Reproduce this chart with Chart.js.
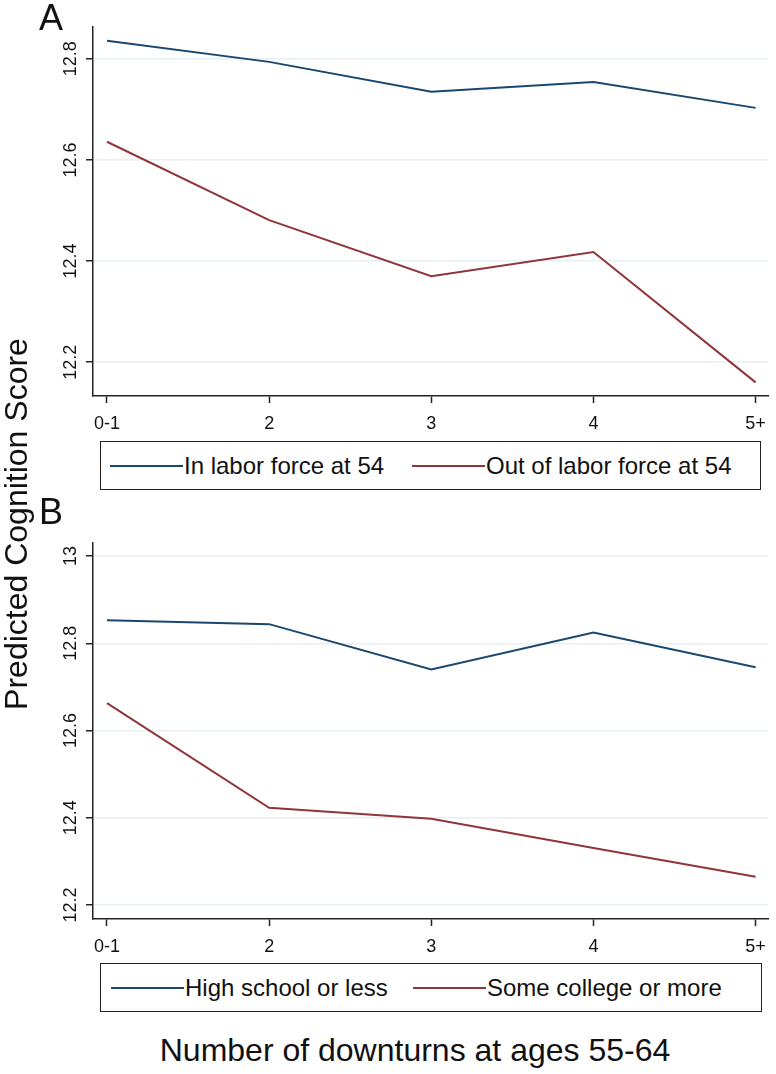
<!DOCTYPE html>
<html>
<head>
<meta charset="utf-8">
<script src="https://cdn.jsdelivr.net/npm/chart.js@4/dist/chart.umd.min.js"></script>
<style>
  body { margin: 0; background: #fff; font-family: "Liberation Sans", Arial, sans-serif; color: #111; }
  #wrap { position: relative; width: 776px; height: 1074px; overflow: hidden; }
  .box { position: absolute; }
  .panel { position: absolute; font-size: 36px; line-height: 1; }
  .legend { position: absolute; border: 1.5px solid #222; box-sizing: border-box; }
  .legend .item { position: absolute; top: 0; height: 100%; display: flex; align-items: center; font-size: 24px; }
  .legend .swatch { display: inline-block; width: 73px; height: 2px; margin-right: 1px; }
  #ytitle { position: absolute; left: 16px; top: 524px; transform: translate(-50%, -50%) rotate(-90deg); font-size: 32px; white-space: nowrap; }
  #xtitle { position: absolute; left: 415px; top: 1050px; transform: translate(-50%, -50%); font-size: 32px; white-space: nowrap; }
</style>
</head>
<body>
<div id="wrap">
  <div class="box" style="left:0;top:0;width:776px;height:430px;"><canvas id="chartA"></canvas></div>
  <div class="box" style="left:0;top:500px;width:776px;height:460px;"><canvas id="chartB"></canvas></div>
  <div class="panel" style="left:39px;top:0px;">A</div>
  <div class="panel" style="left:39px;top:494px;">B</div>
  <div class="legend" id="legendA" style="left:100px;top:441px;width:661px;height:49px;"></div>
  <div class="legend" id="legendB" style="left:100px;top:963px;width:662px;height:49px;"></div>
  <div id="ytitle">Predicted Cognition Score</div>
  <div id="xtitle">Number of downturns at ages 55-64</div>
</div>
<script>
// categories on the x axis
const downturns = ['0-1', '2', '3', '4', '5+'];

// panel A: labor force status at 54
const inLaborForce  = [12.836, 12.794, 12.735, 12.754, 12.703];
const outLaborForce = [12.636, 12.481, 12.370, 12.418, 12.160];
const yTicksA = [12.2, 12.4, 12.6, 12.8];

// panel B: education
const highSchool  = [12.853, 12.844, 12.740, 12.825, 12.745];
const someCollege = [12.663, 12.423, 12.398, 12.331, 12.265];
const yTicksB = [12.2, 12.4, 12.6, 12.8, 13];

const BLUE = '#1a476f';
const RED = '#90353b';
const FONT = '"Liberation Sans", Arial, sans-serif';

// vertical y tick labels like the original
const rotatedYLabels = {
  id: 'rotatedYLabels',
  afterDraw(chart) {
    const y = chart.scales.y;
    const ctx = chart.ctx;
    ctx.save();
    ctx.fillStyle = '#111';
    ctx.font = '18px ' + FONT;
    ctx.textAlign = 'center';
    ctx.textBaseline = 'middle';
    y.ticks.forEach(t => {
      const py = y.getPixelForValue(t.value);
      ctx.save();
      ctx.translate(71, py);
      ctx.rotate(-Math.PI / 2);
      ctx.fillText(String(t.value), 0, 0);
      ctx.restore();
    });
    ctx.restore();
  }
};

function makeChart(id, series, yTicks, yMin, yMax, padTop, xHeight) {
  const ctx = document.getElementById(id).getContext('2d');
  return new Chart(ctx, {
    type: 'line',
    data: {
      datasets: series.map(s => ({
        label: s.label,
        data: s.values.map((v, i) => ({ x: i, y: v })),
        borderColor: s.color,
        borderWidth: 2,
        pointRadius: 0,
        tension: 0,
        fill: false
      }))
    },
    options: {
      responsive: true,
      maintainAspectRatio: false,
      animation: false,
      layout: { padding: { top: padTop, right: 7, left: 0, bottom: 0 } },
      plugins: { legend: { display: false }, tooltip: { enabled: false } },
      scales: {
        x: {
          type: 'linear',
          min: -0.0863,
          max: 4.08,
          afterBuildTicks: s => { s.ticks = downturns.map((_, i) => ({ value: i })); },
          afterFit: s => { s.height = xHeight; },
          ticks: {
            autoSkip: false, maxRotation: 0, padding: 10,
            color: '#111', font: { size: 18, family: FONT },
            callback: v => downturns[v]
          },
          grid: { drawOnChartArea: false, drawTicks: true, tickLength: 7, tickColor: '#222', tickWidth: 1.5 },
          border: { display: true, color: '#222', width: 1.5 }
        },
        y: {
          min: yMin,
          max: yMax,
          afterBuildTicks: s => { s.ticks = yTicks.map(v => ({ value: v })); },
          afterFit: s => { s.width = 93; },
          ticks: { display: false },
          grid: { color: '#e8eff2', lineWidth: 1.5, drawTicks: true, tickLength: 7, tickColor: '#222', tickWidth: 1.5 },
          border: { display: true, color: '#222', width: 1.5 }
        }
      }
    },
    plugins: [rotatedYLabels]
  });
}

function buildLegend(elId, chart, starts) {
  const el = document.getElementById(elId);
  chart.data.datasets.forEach((ds, i) => {
    const item = document.createElement('div');
    item.className = 'item';
    item.style.left = starts[i] + 'px';
    item.innerHTML = '<span class="swatch" style="background:' + ds.borderColor + '"></span><span>' + ds.label + '</span>';
    el.appendChild(item);
  });
}

const chartA = makeChart('chartA', [
  { label: 'In labor force at 54', values: inLaborForce, color: BLUE },
  { label: 'Out of labor force at 54', values: outLaborForce, color: RED }
], yTicksA, 12.133, 12.863, 27, 34);

const chartB = makeChart('chartB', [
  { label: 'High school or less', values: highSchool, color: BLUE },
  { label: 'Some college or more', values: someCollege, color: RED }
], yTicksB, 12.168, 13.030, 43, 41);

buildLegend('legendA', chartA, [9, 311]);
buildLegend('legendB', chartB, [10, 312]);
</script>
</body>
</html>
